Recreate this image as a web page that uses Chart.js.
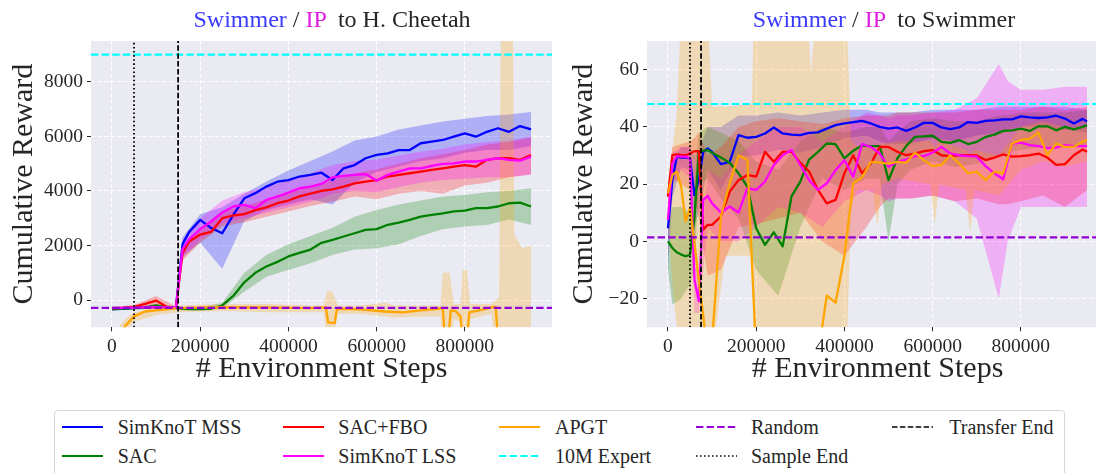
<!DOCTYPE html>
<html lang="en">
<head>
<meta charset="UTF-8" />
<title>Transfer learning curves</title>
<script src="https://cdn.jsdelivr.net/npm/chart.js@4"></script>
<style>
  body { margin: 0; width: 1096px; height: 473px; overflow: hidden; background: #fff; position: relative;
         font-family: 'Liberation Serif', 'DejaVu Serif', serif; color: #262626; }
  canvas { position: absolute; top: 0; }
  .title { position: absolute; top: 7px; font-size: 24px; line-height: 24px; white-space: pre; transform: translateX(-50%); }
  .title .src { color: #3a3aff; }
  .title .ip { color: #e020e0; }
  #legendBox { position: absolute; left: 54px; top: 410px; width: 1011px; height: 72px; box-sizing: border-box;
               border: 1px solid #d6d6d6; border-radius: 4px; background: #fff; }
  .lg-text { position: absolute; font-size: 20px; line-height: 20px; white-space: nowrap; }
  .lg-line { position: absolute; }
</style>
</head>
<body>
<canvas id="left" width="560" height="405" style="left:0"></canvas>
<canvas id="right" width="560" height="405" style="left:560px"></canvas>
<div class="title" style="left:332px"><span class="src">Swimmer</span> / <span class="ip">IP</span>  to H. Cheetah</div>
<div class="title" style="left:884px"><span class="src">Swimmer</span> / <span class="ip">IP</span>  to Swimmer</div>
<div id="legendBox"></div>

<script>
const FONT = "'Liberation Serif', 'DejaVu Serif', serif";
const INK = '#262626';

const BLUE = '#0000ff', GREEN = '#008000', RED = '#ff0000', MAGENTA = '#ff00ff', ORANGE = '#ffa500';
const CYAN = '#00ffff', VIOLET = '#9400d3', BLACK = '#000000';

// shared x axis
const X_MIN = -47500, X_MAX = 997500;
const X_TICKS = [0, 200000, 400000, 600000, 800000];

// ---------- H. Cheetah target ----------
const Y_LIM_L = [-1000, 9500];
const Y_TICKS_L = [0, 2000, 4000, 6000, 8000];
const EXPERT_L = 9000, RANDOM_L = -290, SAMPLE_END_L = 50000, TRANSFER_END_L = 150000;

const STEPS_L = [0, 25000, 50000, 75000, 100000, 125000, 145000, 160000, 175000, 200000, 225000, 250000,
  275000, 300000, 325000, 350000, 375000, 400000, 425000, 450000, 475000, 500000, 525000, 550000, 575000,
  600000, 625000, 650000, 675000, 700000, 725000, 750000, 775000, 800000, 825000, 850000, 875000, 900000,
  925000, 950000];
const MSS_L = [-330, -320, -290, -270, -230, -270, -280, 2050, 2500, 2940, 2640, 2450, 3120, 3730, 3920,
  4160, 4340, 4400, 4530, 4590, 4670, 4400, 4830, 4950, 5200, 5320, 5380, 5500, 5500, 5750, 5810, 5870,
  5990, 6110, 5990, 6170, 6300, 6170, 6380, 6260];
const SAC_L = [-330, -310, -300, -290, -200, -280, -300, -320, -330, -330, -320, -200, 150, 650, 1000,
  1230, 1400, 1600, 1730, 1850, 2100, 2210, 2330, 2450, 2570, 2600, 2760, 2840, 2940, 3060, 3120, 3180,
  3250, 3280, 3370, 3370, 3430, 3550, 3570, 3430];
const FBO_L = [-300, -290, -250, -140, -20, -260, -290, 1720, 2150, 2400, 2500, 3000, 3100, 3150, 3300,
  3400, 3550, 3650, 3800, 3900, 4000, 4060, 4160, 4280, 4340, 4400, 4530, 4590, 4650, 4710, 4770, 4830,
  4890, 4950, 4890, 5140, 5200, 5200, 5140, 5320];
const LSS_L = [-300, -290, -280, -270, -260, -270, -280, 1870, 2230, 2600, 2880, 3210, 3430, 3490, 3370,
  3670, 3790, 3940, 4100, 4160, 4260, 4500, 4550, 4590, 4620, 4380, 4590, 4710, 4830, 4830, 4920, 4990,
  5010, 5080, 5080, 5140, 5200, 5140, 5110, 5260];

const BAND_STEPS_L = [0, 50000, 100000, 145000, 160000, 200000, 250000, 300000, 350000, 400000, 450000,
  500000, 550000, 600000, 650000, 700000, 750000, 800000, 850000, 900000, 950000];
const MSS_LO_L = [-380, -340, -290, -330, 1600, 2100, 1150, 2900, 3300, 3500, 3700, 3500, 4300, 4700, 4900,
  5100, 5200, 5400, 5500, 5500, 5650];
const MSS_HI_L = [-280, -240, -180, -230, 2300, 3150, 3400, 3900, 4350, 4750, 5100, 5450, 5850, 6000, 6250,
  6400, 6550, 6650, 6750, 6800, 6900];
const SAC_LO_L = [-380, -350, -310, -350, -370, -380, -300, 300, 850, 1100, 1350, 1650, 1850, 1900, 2050,
  2350, 2600, 2700, 2750, 2950, 2750];
const SAC_HI_L = [-280, -250, -150, -250, -270, -270, -100, 1000, 1650, 2050, 2350, 2650, 3050, 3300, 3500,
  3650, 3800, 3850, 3950, 4000, 4100];
const FBO_LO_L = [-350, -320, -200, -340, 1450, 2100, 2700, 2850, 3050, 3250, 3450, 3600, 3800, 3700, 3900,
  4000, 3900, 4200, 4300, 4500, 4600];
const FBO_HI_L = [-250, -180, 150, -230, 1950, 2650, 3250, 3450, 3700, 3950, 4200, 4400, 4650, 4800, 5000,
  5200, 5350, 5500, 5700, 5800, 5950];
const LSS_LO_L = [-350, -330, -320, -330, 1550, 2200, 2800, 3000, 3200, 3400, 3600, 3900, 4000, 3950, 4150,
  4300, 4400, 4450, 4500, 4500, 4600];
const LSS_HI_L = [-250, -230, -200, -230, 2200, 3000, 3650, 3950, 4150, 4400, 4650, 4950, 5100, 5150, 5300,
  5450, 5550, 5700, 5800, 5850, 6000];

// APGT collapses several times, so it keeps its own sample points
const APGT_STEPS_L = [0, 20000, 30000, 50000, 75000, 100000, 150000, 250000, 350000, 450000, 485000, 490000,
  505000, 510000, 560000, 620000, 660000, 700000, 740000, 750000, 755000, 762000, 768000, 780000, 790000,
  795000, 805000, 810000, 840000, 865000, 870000, 875000, 950000];
const APGT_L = [-2500, -1300, -950, -600, -420, -380, -300, -260, -270, -300, -270, -820, -850, -320, -340,
  -420, -450, -380, -320, -300, -1500, -1500, -380, -420, -600, -1500, -1500, -450, -350, -250, -260,
  -1500, -1500];
const APGT_BAND_STEPS_L = [0, 30000, 50000, 100000, 150000, 250000, 350000, 450000, 480000, 488000, 500000,
  512000, 560000, 620000, 640000, 700000, 745000, 750000, 765000, 775000, 790000, 795000, 805000, 812000,
  860000, 878000, 882000, 908000, 912000, 930000, 950000];
const APGT_HI_L = [-1300, -700, -450, -250, -200, -150, -150, -200, -200, 350, 300, -200, -200, -100, -200,
  -200, -200, 1000, 1000, -150, -150, 1100, 1100, -150, -150, 100, 12000, 12000, 2400, 1900, 2000];
const APGT_LO_L = [-4000, -1200, -800, -550, -450, -400, -450, -450, -450, -1500, -1500, -500, -500, -600,
  -650, -600, -600, -3000, -3000, -700, -800, -3000, -3000, -700, -500, -3000, -3000, -3000, -3000, -3000,
  -3000];

// ---------- Swimmer target ----------
const Y_LIM_R = [-30, 70];
const Y_TICKS_R = [-20, 0, 20, 40, 60];
const EXPERT_R = 48, RANDOM_R = 1.4, SAMPLE_END_R = 50000, TRANSFER_END_R = 75000;

const STEPS_R = [0, 10000, 20000, 30000, 40000, 50000, 60000, 70000, 80000, 90000, 100000, 120000, 140000,
  160000, 180000, 200000, 220000, 240000, 260000, 280000, 300000, 320000, 340000, 360000, 380000, 400000,
  420000, 440000, 460000, 480000, 500000, 520000, 540000, 560000, 580000, 600000, 620000, 640000, 660000,
  680000, 700000, 720000, 740000, 760000, 780000, 800000, 820000, 840000, 860000, 880000, 900000, 920000,
  940000, 950000];
const MSS_R = [4.6, 21.4, 29.6, 29.3, 29.3, 29.0, 16.2, 21.4, 31.3, 32.5, 31.3, 27.0, 27.8, 37.1, 36.2,
  36.5, 37.7, 39.8, 37.7, 37.3, 37.1, 37.9, 38.1, 39.4, 40.6, 41.2, 41.7, 42.1, 41.2, 40.0, 39.4, 39.8,
  38.6, 39.8, 41.4, 41.4, 39.8, 39.2, 39.8, 41.7, 41.4, 42.1, 42.3, 42.6, 42.6, 43.7, 43.3, 43.1, 43.3,
  43.9, 42.9, 41.2, 42.8, 41.9];
const SAC_R = [0, -2.3, -3.8, -4.6, -5.2, -4.6, 8.0, 31.3, 31.7, 31.9, 31.0, 29.3, 27.5, 23.8, 19.1, 4.6,
  -1.2, 3.2, -1.7, 15.7, 20.9, 28.6, 31.3, 34.2, 34.0, 29.0, 31.7, 33.5, 33.3, 33.3, 21.4, 29.0, 33.3, 36.5,
  36.7, 36.9, 34.8, 34.4, 35.4, 34.0, 34.8, 36.5, 37.3, 38.6, 38.8, 39.4, 38.6, 40.2, 40.2, 38.8, 40.0,
  39.1, 40.0, 40.6];
const FBO_R = [15.6, 30.1, 30.4, 30.1, 30.1, 30.7, 31.5, 31.5, 4.1, 5.8, 5.8, 8.7, 17.4, 21.4, 23.2, 22.6,
  31.3, 27.8, 31.3, 31.3, 27.5, 24.4, 18.0, 13.3, 14.5, 23.8, 30.1, 23.8, 27.2, 33.0, 33.0, 31.3, 30.1,
  30.7, 31.5, 31.9, 30.1, 29.8, 30.1, 30.1, 30.0, 28.4, 29.3, 30.4, 29.6, 29.8, 30.1, 30.7, 29.3, 26.7,
  27.0, 30.1, 32.1, 31.3];
const LSS_R = [7.5, 27.2, 29.8, 29.6, 29.6, 29.0, -13.3, -20.9, 14.5, 15.9, 13.3, 10.1, 12.2, 10.1, 18.6,
  18.0, 20.9, 26.7, 30.1, 31.9, 26.7, 21.4, 18.0, 20.3, 24.9, 28.4, 22.6, 34.0, 33.0, 30.7, 26.1, 27.8,
  28.6, 29.8, 29.8, 31.0, 33.0, 30.7, 30.1, 29.8, 29.6, 26.3, 23.8, 21.7, 34.2, 34.5, 33.6, 33.3, 32.6,
  32.8, 33.6, 33.3, 33.3, 33.3];
const APGT_R = [16.8, 23.2, 24.4, 19.1, 7.0, 11.6, -0.6, -13.3, -26, -40, -35, 8.7, 20.3, 30.1, 28.4, -40,
  -40, -40, -40, -40, -40, -40, -40, -18.9, -21.4, -5, 20.3, 22.4, 27.8, 27.5, 27.2, 27.8, 27.5, 31.0,
  28.4, 26.3, 26.7, 30.1, 27.2, 23.8, 24.4, 21.4, 24.4, 23.8, 34.2, 35.4, 35.9, 38.0, 30.1, 34.2, 33.0,
  33.0, 34.8, 35.4];

const BAND_STEPS_R = [0, 10000, 30000, 50000, 60000, 70000, 90000, 120000, 160000, 200000, 250000, 300000,
  350000, 400000, 450000, 480000, 500000, 520000, 550000, 600000, 650000, 700000, 750000, 770000, 800000,
  850000, 900000, 950000];
const MSS_LO_R = [-10, 15, 26, 25, 5, 10, 25, 18, 30, 30, 32, 31, 33, 36, 37, 35, 34, 34, 34, 36, 35, 37,
  38, 39, 40, 40, 39, 38];
const MSS_HI_R = [8, 28, 33, 33, 30, 32, 40, 40, 44, 44, 45, 44, 45, 46, 46, 45, 45, 45, 45, 46, 46, 46,
  47, 47, 47, 47, 47, 46];
const SAC_LO_R = [-10, -22, -20, -15, -10, 20, 22, 15, 8, -10, -19, 5, 22, 18, 22, 22, 0, 20, 25, 28, 26,
  27, 30, 31, 32, 33, 33, 33];
const SAC_HI_R = [5, 12, 12, 10, 20, 38, 40, 38, 35, 28, 25, 35, 40, 38, 40, 40, 35, 38, 42, 43, 42, 42,
  44, 44, 45, 45, 45, 46];
const FBO_LO_R = [10, 22, 20, 18, 15, 8, -12, -10, 5, 6, 8, 10, 0, -5, 5, 12, 15, 15, 15, 16, 14, 15, 13,
  13, 14, 16, 12, 18];
const FBO_HI_R = [20, 33, 34, 35, 36, 38, 30, 33, 40, 42, 43, 42, 41, 43, 44, 44, 44, 45, 45, 45, 45, 46,
  46, 46, 46, 47, 46, 47];
const LSS_LO_R = [-5, 20, 25, 22, -25, -25, 5, 0, 0, 5, 12, 10, 5, 14, 18, 16, 14, 15, 15, 16, 14, 8, -20,
  0, 12, 12, 12, 12];
const LSS_HI_R = [12, 31, 33, 33, 5, -15, 25, 22, 30, 35, 40, 40, 35, 40, 45, 44, 43, 44, 44, 45, 46, 50,
  62, 56, 53, 53, 54, 54];

const APGT_BAND_STEPS_R = [0, 10000, 20000, 30000, 90000, 100000, 130000, 190000, 195000, 315000, 325000,
  335000, 405000, 415000, 430000, 465000, 475000, 485000, 520000, 595000, 605000, 615000, 675000, 685000,
  695000, 750000, 800000, 850000, 900000, 950000];
const APGT_HI_R = [20, 32, 45, 80, 80, 47, 47, 48, 80, 80, 59, 80, 80, 35, 33, 33, 33, 34, 35, 35, 33, 35,
  32, 30, 32, 30, 40, 42, 40, 40];
const APGT_LO_R = [10, -15, -30, -40, -40, -40, -5, -5, -40, -40, -40, -40, -40, 12, 18, 18, 5, 20, 22, 20,
  6, 20, 18, 3, 18, 16, 25, 28, 26, 28];

// ---------- helpers ----------
function pts(xs, ys) {
  return xs.map((x, i) => ({ x: x, y: ys[i] }));
}

function rgba(hex, a) {
  const n = parseInt(hex.slice(1), 16);
  return `rgba(${(n >> 16) & 255},${(n >> 8) & 255},${n & 255},${a})`;
}

function tickText(v) {
  return v < 0 ? '\u2212' + Math.abs(v) : String(v);
}

const plotBg = {
  id: 'plotBg',
  beforeDraw(chart) {
    const { ctx, chartArea: a } = chart;
    ctx.save();
    ctx.fillStyle = '#eaeaf2';
    ctx.fillRect(a.left, a.top, a.right - a.left, a.bottom - a.top);
    ctx.restore();
  }
};

function buildPanel(canvasId, p) {
  const sets = [];
  const line = (data, color, width, dash) => sets.push({
    data, borderColor: color, borderWidth: width, borderDash: dash || [], pointRadius: 0,
    fill: false, tension: 0, borderJoinStyle: 'round', spanGaps: true
  });
  const band = (xs, lo, hi, color) => {
    sets.push({ data: pts(xs, lo), borderWidth: 0, pointRadius: 0, fill: false });
    sets.push({ data: pts(xs, hi), borderWidth: 0, pointRadius: 0, fill: '-1', backgroundColor: rgba(color, 0.25) });
  };

  // shaded spreads underneath, mean curves on top of them
  p.methods.forEach(m => band(m.bandSteps, m.lo, m.hi, m.color));
  p.methods.forEach(m => line(pts(m.steps, m.values), m.color, 2.3));
  line(pts([X_MIN, X_MAX], [p.expert, p.expert]), CYAN, 2.2, [7.4, 3.2]);
  line(pts([X_MIN, X_MAX], [p.random, p.random]), VIOLET, 2.2, [7.4, 3.2]);
  line(pts([p.sampleEnd, p.sampleEnd], p.yLim), BLACK, 1.8, [1.6, 2.5]);
  line(pts([p.transferEnd, p.transferEnd], p.yLim), BLACK, 1.8, [5.5, 2.4]);

  // first dataset is drawn first, later ones on top
  sets.forEach((d, i) => { d.order = sets.length - i; });

  const tickFont = { family: FONT, size: 19.5 };
  const titleFont = { family: FONT, size: 30 };
  const grid = { color: '#ffffff', lineWidth: 1, tickLength: 4, tickColor: INK, tickWidth: 1, tickBorderDash: [] };

  new Chart(document.getElementById(canvasId), {
    type: 'line',
    data: { datasets: sets },
    options: {
      responsive: false,
      animation: false,
      devicePixelRatio: 1,
      layout: { padding: { left: 0, top: 41, right: p.padRight, bottom: 0 } },
      plugins: { legend: { display: false }, tooltip: { enabled: false } },
      scales: {
        x: {
          type: 'linear', min: X_MIN, max: X_MAX,
          afterBuildTicks: s => { s.ticks = X_TICKS.map(v => ({ value: v })); },
          afterFit: s => { s.height = 405 - 327.3; },
          ticks: { font: tickFont, color: INK, padding: 4, autoSkip: false, maxRotation: 0, callback: tickText },
          grid: grid,
          border: { display: false, dash: [4, 2.5] },
          title: { display: true, text: '# Environment Steps', font: titleFont, color: INK, padding: { top: 0, bottom: 18 } }
        },
        y: {
          type: 'linear', min: p.yLim[0], max: p.yLim[1],
          afterBuildTicks: s => { s.ticks = p.yTicks.map(v => ({ value: v })); },
          afterFit: s => { s.width = p.yAxisWidth; },
          ticks: { font: tickFont, color: INK, padding: 4, autoSkip: false, callback: tickText },
          grid: grid,
          border: { display: false, dash: [4, 2.5] },
          title: { display: true, text: 'Cumulative Reward', font: titleFont, color: INK, padding: { top: 6, bottom: 0 } }
        }
      }
    },
    plugins: [plotBg]
  });
}

buildPanel('left', {
  yLim: Y_LIM_L, yTicks: Y_TICKS_L, yAxisWidth: 91, padRight: 8,
  expert: EXPERT_L, random: RANDOM_L, sampleEnd: SAMPLE_END_L, transferEnd: TRANSFER_END_L,
  methods: [
    { steps: STEPS_L, values: MSS_L, bandSteps: BAND_STEPS_L, lo: MSS_LO_L, hi: MSS_HI_L, color: BLUE },
    { steps: STEPS_L, values: SAC_L, bandSteps: BAND_STEPS_L, lo: SAC_LO_L, hi: SAC_HI_L, color: GREEN },
    { steps: STEPS_L, values: FBO_L, bandSteps: BAND_STEPS_L, lo: FBO_LO_L, hi: FBO_HI_L, color: RED },
    { steps: STEPS_L, values: LSS_L, bandSteps: BAND_STEPS_L, lo: LSS_LO_L, hi: LSS_HI_L, color: MAGENTA },
    { steps: APGT_STEPS_L, values: APGT_L, bandSteps: APGT_BAND_STEPS_L, lo: APGT_LO_L, hi: APGT_HI_L, color: ORANGE }
  ]
});

buildPanel('right', {
  yLim: Y_LIM_R, yTicks: Y_TICKS_R, yAxisWidth: 87, padRight: 12,
  expert: EXPERT_R, random: RANDOM_R, sampleEnd: SAMPLE_END_R, transferEnd: TRANSFER_END_R,
  methods: [
    { steps: STEPS_R, values: MSS_R, bandSteps: BAND_STEPS_R, lo: MSS_LO_R, hi: MSS_HI_R, color: BLUE },
    { steps: STEPS_R, values: SAC_R, bandSteps: BAND_STEPS_R, lo: SAC_LO_R, hi: SAC_HI_R, color: GREEN },
    { steps: STEPS_R, values: FBO_R, bandSteps: BAND_STEPS_R, lo: FBO_LO_R, hi: FBO_HI_R, color: RED },
    { steps: STEPS_R, values: LSS_R, bandSteps: BAND_STEPS_R, lo: LSS_LO_R, hi: LSS_HI_R, color: MAGENTA },
    { steps: STEPS_R, values: APGT_R, bandSteps: APGT_BAND_STEPS_R, lo: APGT_LO_R, hi: APGT_HI_R, color: ORANGE }
  ]
});

// ---------- shared legend ----------
const LEGEND_ITEMS = [
  { label: 'SimKnoT MSS', color: BLUE, width: 2, dash: '' },
  { label: 'SAC', color: GREEN, width: 2, dash: '' },
  { label: 'SAC+FBO', color: RED, width: 2, dash: '' },
  { label: 'SimKnoT LSS', color: MAGENTA, width: 2, dash: '' },
  { label: 'APGT', color: ORANGE, width: 2, dash: '' },
  { label: '10M Expert', color: CYAN, width: 2, dash: '7.4 3.2' },
  { label: 'Random', color: VIOLET, width: 2, dash: '7.4 3.2' },
  { label: 'Sample End', color: BLACK, width: 1.5, dash: '1.5 2.5' },
  { label: 'Transfer End', color: BLACK, width: 1.5, dash: '5.5 2.4' }
];
const LEGEND_LINE_X = [61.7, 282.7, 499, 696, 892.3];
const LEGEND_TEXT_X = [117.7, 338.3, 555, 751, 949.3];
const LEGEND_ROW_Y = [427.3, 456];

LEGEND_ITEMS.forEach((it, i) => {
  const col = Math.floor(i / 2), row = i % 2;
  const svg = document.createElementNS('http://www.w3.org/2000/svg', 'svg');
  svg.setAttribute('class', 'lg-line');
  svg.setAttribute('width', '42');
  svg.setAttribute('height', '6');
  svg.style.left = LEGEND_LINE_X[col] + 'px';
  svg.style.top = (LEGEND_ROW_Y[row] - 3) + 'px';
  const ln = document.createElementNS('http://www.w3.org/2000/svg', 'line');
  ln.setAttribute('x1', '0'); ln.setAttribute('y1', '3');
  ln.setAttribute('x2', '41'); ln.setAttribute('y2', '3');
  ln.setAttribute('stroke', it.color);
  ln.setAttribute('stroke-width', it.width);
  if (it.dash) ln.setAttribute('stroke-dasharray', it.dash);
  svg.appendChild(ln);
  document.body.appendChild(svg);

  const t = document.createElement('div');
  t.className = 'lg-text';
  t.textContent = it.label;
  t.style.left = LEGEND_TEXT_X[col] + 'px';
  t.style.top = (LEGEND_ROW_Y[row] - 10) + 'px';
  document.body.appendChild(t);
});
</script>
</body>
</html>
